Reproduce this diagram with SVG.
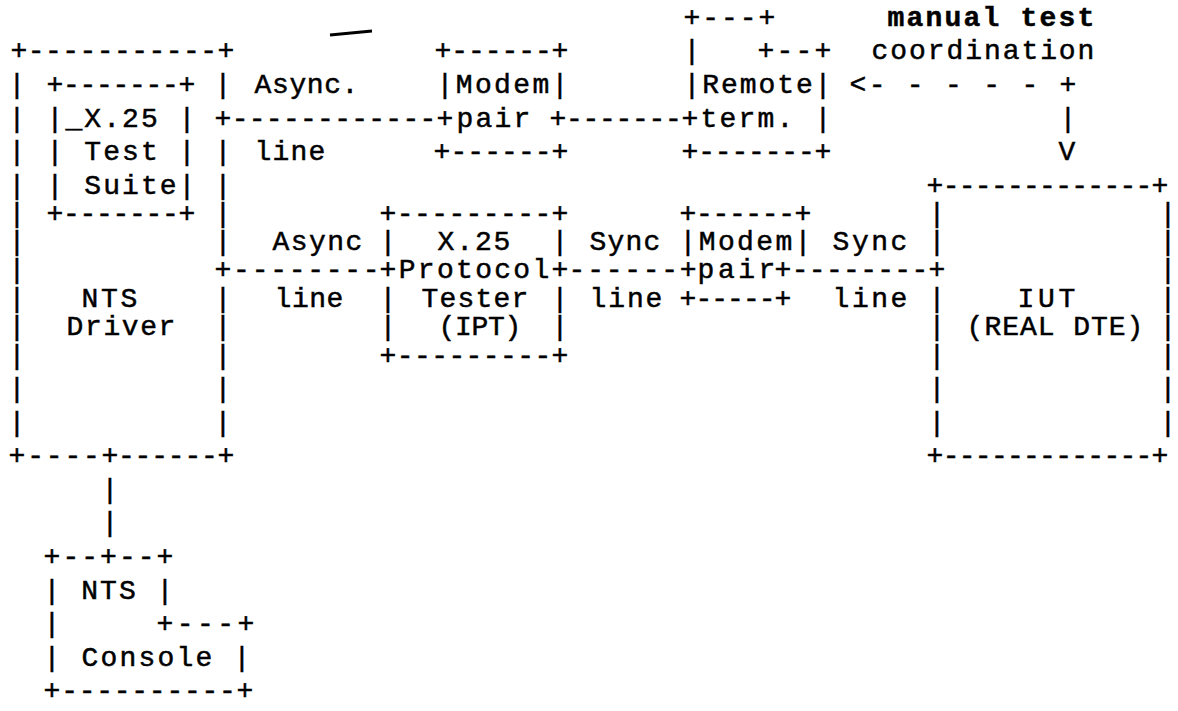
<svg xmlns="http://www.w3.org/2000/svg" width="1178" height="711" viewBox="0 0 1178 711">
<style>
text{font-family:"Liberation Mono","DejaVu Sans Mono",monospace;font-size:28px;fill:#000;stroke:#000;stroke-width:0.5}
.c{text-anchor:middle}
.b{font-weight:bold}
</style>
<rect width="1178" height="711" fill="#fff"/>
<path d="M330 35 L372 31" stroke="#000" stroke-width="3" fill="none"/>

<g id="connectors">
<text x="683.6" y="26" textLength="91.8">+---+</text>
<text x="757.6" y="59" textLength="73.8">+--+</text>
<text class="c" x="692" y="59">|</text>
<text x="849.6" y="93" textLength="226.8">&lt;- - - - - +</text>
<text class="c" x="1068" y="127">|</text>
<text class="c" x="1067" y="160">V</text>
<text x="214.6" y="127" textLength="238.8">+------------+</text>
<text x="549.6" y="127" textLength="148.8">+-------+</text>
<text x="254.6" y="93" textLength="103.8">Async.</text>
<text x="254.6" y="160" textLength="70.8">line</text>
<text x="214.6" y="278" textLength="165">+--------</text>
<text x="568.6" y="278" textLength="128">------+</text>
<text x="774.6" y="278" textLength="170.8">+--------+</text>
<text x="272.6" y="250" textLength="89.8">Async</text>
<text x="274.6" y="307" textLength="68.8">line</text>
<text x="589.6" y="250" textLength="70.8">Sync</text>
<text x="589.6" y="307" textLength="72.8">line</text>
<text x="832.6" y="250" textLength="74.8">Sync</text>
<text x="832.6" y="307" textLength="74.8">line</text>
<text class="c" x="110" y="498">|</text>
<text class="c" x="110" y="531">|</text>
</g>

<g id="manual-test-coordination">
<text class="b" x="887.6" y="26" textLength="206.8">manual test</text>
<text x="871.6" y="59" textLength="222.8">coordination</text>
</g>

<g id="nts-driver">
<text x="10.6" y="59" textLength="223.8">+-----------+</text>
<text class="c" x="17" y="93">|</text><text class="c" x="223" y="93">|</text>
<text class="c" x="17" y="127">|</text>
<text class="c" x="17" y="160">|</text><text class="c" x="223" y="160">|</text>
<text class="c" x="17" y="194">|</text><text class="c" x="223" y="194">|</text>
<text class="c" x="17" y="222">|</text><text class="c" x="223" y="222">|</text>
<text class="c" x="17" y="250">|</text><text class="c" x="223" y="250">|</text>
<text class="c" x="17" y="278">|</text>
<text class="c" x="17" y="307">|</text><text class="c" x="223" y="307">|</text>
<text class="c" x="17" y="335">|</text><text class="c" x="223" y="335">|</text>
<text class="c" x="17" y="364">|</text><text class="c" x="223" y="364">|</text>
<text class="c" x="17" y="397">|</text><text class="c" x="223" y="397">|</text>
<text class="c" x="17" y="431">|</text><text class="c" x="223" y="431">|</text>
<text x="8.6" y="464" textLength="109.8">+----+</text>
<text x="118" y="464" textLength="116.4">------+</text>
<text x="81.6" y="307" textLength="55.8">NTS</text>
<text x="66.6" y="335" textLength="108.8">Driver</text>
</g>

<g id="x25-test-suite">
<text x="46.6" y="93" textLength="148.8">+-------+</text>
<text x="46.6" y="127" textLength="148.8">|_X.25 |</text>
<text x="46.6" y="160" textLength="148.8">| Test |</text>
<text x="46.6" y="194" textLength="148.8">| Suite|</text>
<text x="46.6" y="222" textLength="148.8">+-------+</text>
</g>

<g id="modem-pair-1">
<text x="434.6" y="59" textLength="133.8">+------+</text>
<text x="436.6" y="93" textLength="131.8">|Modem|</text>
<text x="456.6" y="127" textLength="73.8">pair</text>
<text x="433.6" y="160" textLength="134.8">+------+</text>
</g>

<g id="remote-term">
<text x="683.6" y="93" textLength="147.8">|Remote|</text>
<text x="700.6" y="127" textLength="92.8">term.</text>
<text class="c" x="823" y="127">|</text>
<text x="681.6" y="160" textLength="149.8">+-------+</text>
</g>

<g id="ipt">
<text x="379.6" y="222" textLength="188.8">+---------+</text>
<text class="c" x="388" y="250">|</text>
<text x="437.6" y="250" textLength="72.8">X.25</text>
<text class="c" x="560" y="250">|</text>
<text x="379.6" y="278" textLength="188.8">+Protocol+</text>
<text class="c" x="388" y="307">|</text>
<text x="421.6" y="307" textLength="106.8">Tester</text>
<text class="c" x="560" y="307">|</text>
<text class="c" x="388" y="335">|</text>
<text x="438.6" y="335" textLength="82.8">(IPT)</text>
<text class="c" x="560" y="335">|</text>
<text x="379.6" y="364" textLength="188.8">+---------+</text>
</g>

<g id="modem-pair-2">
<text x="679.6" y="222" textLength="131.8">+------+</text>
<text x="679.6" y="250" textLength="131.8">|Modem|</text>
<text x="697.6" y="278" textLength="77.8">pair</text>
<text x="679.6" y="307" textLength="111.8">+-----+</text>
</g>

<g id="iut">
<text x="926.6" y="194" textLength="241.8">+-------------+</text>
<text class="c" x="937" y="222">|</text><text class="c" x="1168" y="222">|</text>
<text class="c" x="937" y="250">|</text><text class="c" x="1168" y="250">|</text>
<text class="c" x="1168" y="278">|</text>
<text class="c" x="937" y="307">|</text><text class="c" x="1168" y="307">|</text>
<text class="c" x="937" y="335">|</text><text class="c" x="1168" y="335">|</text>
<text class="c" x="937" y="364">|</text><text class="c" x="1168" y="364">|</text>
<text class="c" x="937" y="397">|</text><text class="c" x="1168" y="397">|</text>
<text class="c" x="937" y="431">|</text><text class="c" x="1168" y="431">|</text>
<text x="926.6" y="464" textLength="241.8">+-------------+</text>
<text x="1017.6" y="307" textLength="57.8">IUT</text>
<text x="966.6" y="335" textLength="176.8">(REAL DTE)</text>
</g>

<g id="nts-console">
<text x="43.6" y="565" textLength="129.8">+--+--+</text>
<text x="43.6" y="599" textLength="129.8">| NTS |</text>
<text class="c" x="52" y="632">|</text>
<text x="156.6" y="632" textLength="97.8">+---+</text>
<text x="43.6" y="666" textLength="206.8">| Console |</text>
<text x="43.6" y="699" textLength="209.8">+----------+</text>
</g>
</svg>
